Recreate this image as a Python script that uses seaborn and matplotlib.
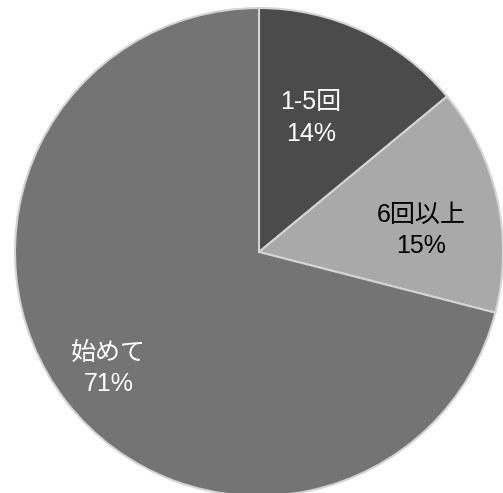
import numpy as np
import matplotlib.pyplot as plt
import seaborn as sns

sns.set_theme(style="white")
plt.rcParams['font.family'] = ['Liberation Sans', 'Noto Sans CJK JP', 'DejaVu Sans']

# Data
categories = ['1-5回', '6回以上', '始めて']
shares = [14, 15, 71]
slice_colors = ['#4b4b4b', '#a9a9a9', '#747474']
text_colors = ['white', 'black', 'white']
label_dist = [0.59, 0.67, 0.78]
label_shift = [4, -5, 0]  # degrees off the wedge middle

fig = plt.figure(figsize=(5.03, 4.93), dpi=100)
r_px = 244
cx, cy = 259, 493 - 252
ax = fig.add_axes([(cx - r_px) / 503, (cy - r_px) / 493, 2 * r_px / 503, 2 * r_px / 493])

wedges, _ = ax.pie(shares, colors=slice_colors, startangle=90, counterclock=False,
                   wedgeprops=dict(edgecolor='#d4d4d4', linewidth=1.5))
ax.set_xlim(-1, 1)
ax.set_ylim(-1, 1)
ax.set_aspect('auto')

# Labels placed near the middle angle of each wedge
for w, cat, val, tc, d, s in zip(wedges, categories, shares, text_colors, label_dist, label_shift):
    ang = np.deg2rad((w.theta1 + w.theta2) / 2 + s)
    ax.text(d * np.cos(ang), d * np.sin(ang), f'{cat}\n{val}%', ha='center', va='center',
            fontsize=18, color=tc, linespacing=1.4)

ax.axis('off')
fig.savefig('out.png', dpi=100)
